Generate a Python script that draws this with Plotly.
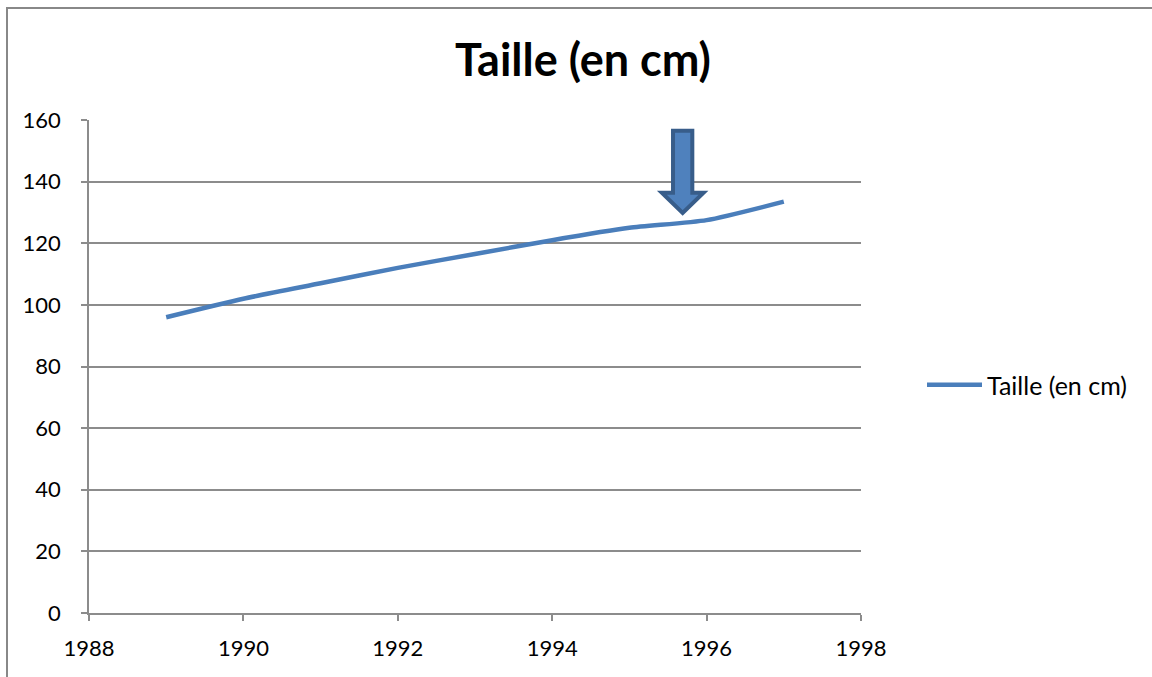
import plotly.graph_objects as go

# Height by year
years = [1989, 1990, 1991, 1992, 1993, 1994, 1995, 1996, 1997]
taille = [96, 102, 107, 112, 116.5, 121, 125, 127.5, 133.5]

series_name = "Taille (en cm)"
title_text = "Taille (en cm)"
x_ticks = [1988, 1990, 1992, 1994, 1996, 1998]
y_ticks = [0, 20, 40, 60, 80, 100, 120, 140, 160]

# Arrow marker (data units): centre x, top, head start, tip
arrow_x = 1995.69
arrow_top = 156.5
arrow_head = 136.4
arrow_tip = 129.8
shaft_hw = 0.125
head_hw = 0.27

font_family = "Lato, 'Open Sans', sans-serif"
grid_col = "#8c8c8c"

fig = go.Figure()
fig.add_trace(go.Scatter(
    x=years, y=taille, mode="lines", name=series_name,
    line=dict(color="#4a7ebb", width=4.5, shape="spline", smoothing=0.6),
))

arrow_path = (
    f"M {arrow_x - shaft_hw},{arrow_top} L {arrow_x + shaft_hw},{arrow_top} "
    f"L {arrow_x + shaft_hw},{arrow_head} L {arrow_x + head_hw},{arrow_head} "
    f"L {arrow_x},{arrow_tip} L {arrow_x - head_hw},{arrow_head} "
    f"L {arrow_x - shaft_hw},{arrow_head} Z"
)

fig.update_layout(
    width=1152, height=677,
    margin=dict(l=89, r=291, t=120, b=64),
    paper_bgcolor="white", plot_bgcolor="white",
    font=dict(family=font_family, size=22, color="#000000"),
    title=dict(text=f"<b>{title_text}</b>", x=(583 - 89) / 772, xref="paper", xanchor="center",
               y=1 - 60 / 677, yanchor="middle",
               font=dict(size=45, family=font_family, color="#000000")),
    showlegend=True,
    legend=dict(x=(922 - 89) / 772, y=(613 - 385) / 493, xanchor="left", yanchor="middle",
                font=dict(size=25), itemwidth=55, bgcolor="rgba(0,0,0,0)"),
    xaxis=dict(range=[1988, 1998], tickvals=x_ticks, showgrid=False,
               showline=True, linecolor=grid_col, linewidth=1.5,
               ticks="outside", ticklen=6, tickcolor=grid_col, tickwidth=1.5,
               zeroline=False, fixedrange=True, ticklabelstandoff=9),
    yaxis=dict(range=[0, 160], tickvals=y_ticks, showgrid=True,
               gridcolor=grid_col, gridwidth=1.5,
               showline=True, linecolor=grid_col, linewidth=1.5,
               ticks="outside", ticklen=6, tickcolor=grid_col, tickwidth=1.5,
               zeroline=False, fixedrange=True, ticklabelstandoff=16),
    shapes=[
        dict(type="path", xref="x", yref="y", path=arrow_path,
             fillcolor="#4f81bd", line=dict(color="#385d8a", width=4), layer="above"),
        # chart-area frame
        dict(type="rect", xref="paper", yref="paper",
             x0=(7 - 89) / 772, x1=(1160 - 89) / 772,
             y0=(613 - 690) / 493, y1=(613 - 8) / 493,
             line=dict(color="#888888", width=2), fillcolor="rgba(0,0,0,0)", layer="below"),
    ],
)

fig.write_html("out.html")
